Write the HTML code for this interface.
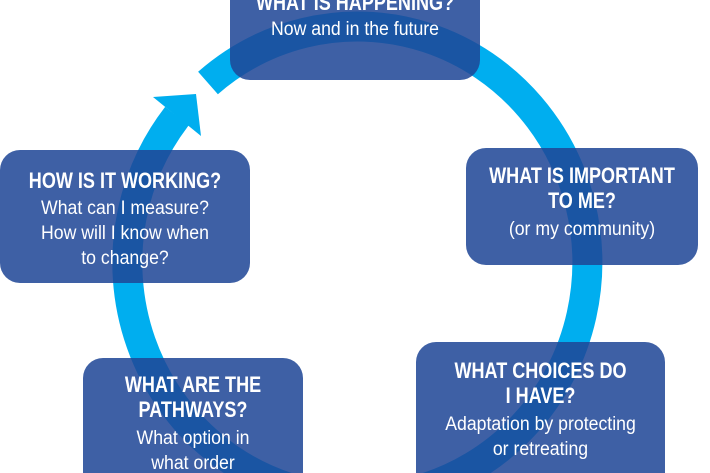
<!DOCTYPE html>
<html><head><meta charset="utf-8"><style>
html,body{margin:0;padding:0;background:#fff;width:710px;height:473px;overflow:hidden;position:relative}
.b{position:absolute;background:rgba(30,70,150,0.86);border-radius:20px;color:#fff;text-align:center;font-family:"Liberation Sans",sans-serif;overflow:hidden}
.h{font-weight:bold;font-size:22px;line-height:25px;transform:scaleX(0.82);white-space:nowrap}
.t{font-size:19px;line-height:25px;transform:scaleX(0.93);white-space:nowrap}
svg{position:absolute;left:0;top:0}
</style></head><body>
<svg width="710" height="473">
<path d="M 177,116 A 230 236 0 1 0 208,83" fill="none" stroke="#00aeef" stroke-width="30"/>
<polygon points="153,97 196,94 201,136" fill="#00aeef"/>
</svg>
<div class="b" style="left:230px;top:-20px;width:250px;height:100px;">
<div style="padding-top:10px"></div><div class="h">WHAT IS HAPPENING?</div>
<div class="t" style="margin-top:2px">Now and in the future</div></div>
<div class="b" style="left:466px;top:148px;width:232px;height:117px;">
<div style="padding-top:15px"></div><div class="h">WHAT IS IMPORTANT</div><div class="h">TO ME?</div>
<div class="t" style="margin-top:4px">(or my community)</div></div>
<div class="b" style="left:416px;top:342px;width:249px;height:131px;border-radius:20px 20px 0 0">
<div style="padding-top:16px"></div><div class="h">WHAT CHOICES DO</div><div class="h">I HAVE?</div>
<div class="t" style="margin-top:4px">Adaptation by protecting</div><div class="t">or retreating</div></div>
<div class="b" style="left:83px;top:358px;width:220px;height:115px;border-radius:20px 20px 0 0">
<div style="padding-top:14px"></div><div class="h">WHAT ARE THE</div><div class="h">PATHWAYS?</div>
<div class="t" style="margin-top:4px">What option in</div><div class="t">what order</div></div>
<div class="b" style="left:0px;top:150px;width:250px;height:133px;">
<div style="padding-top:18px"></div><div class="h">HOW IS IT WORKING?</div>
<div class="t" style="margin-top:3px">What can I measure?</div><div class="t">How will I know when</div><div class="t">to change?</div></div>
</body></html>
